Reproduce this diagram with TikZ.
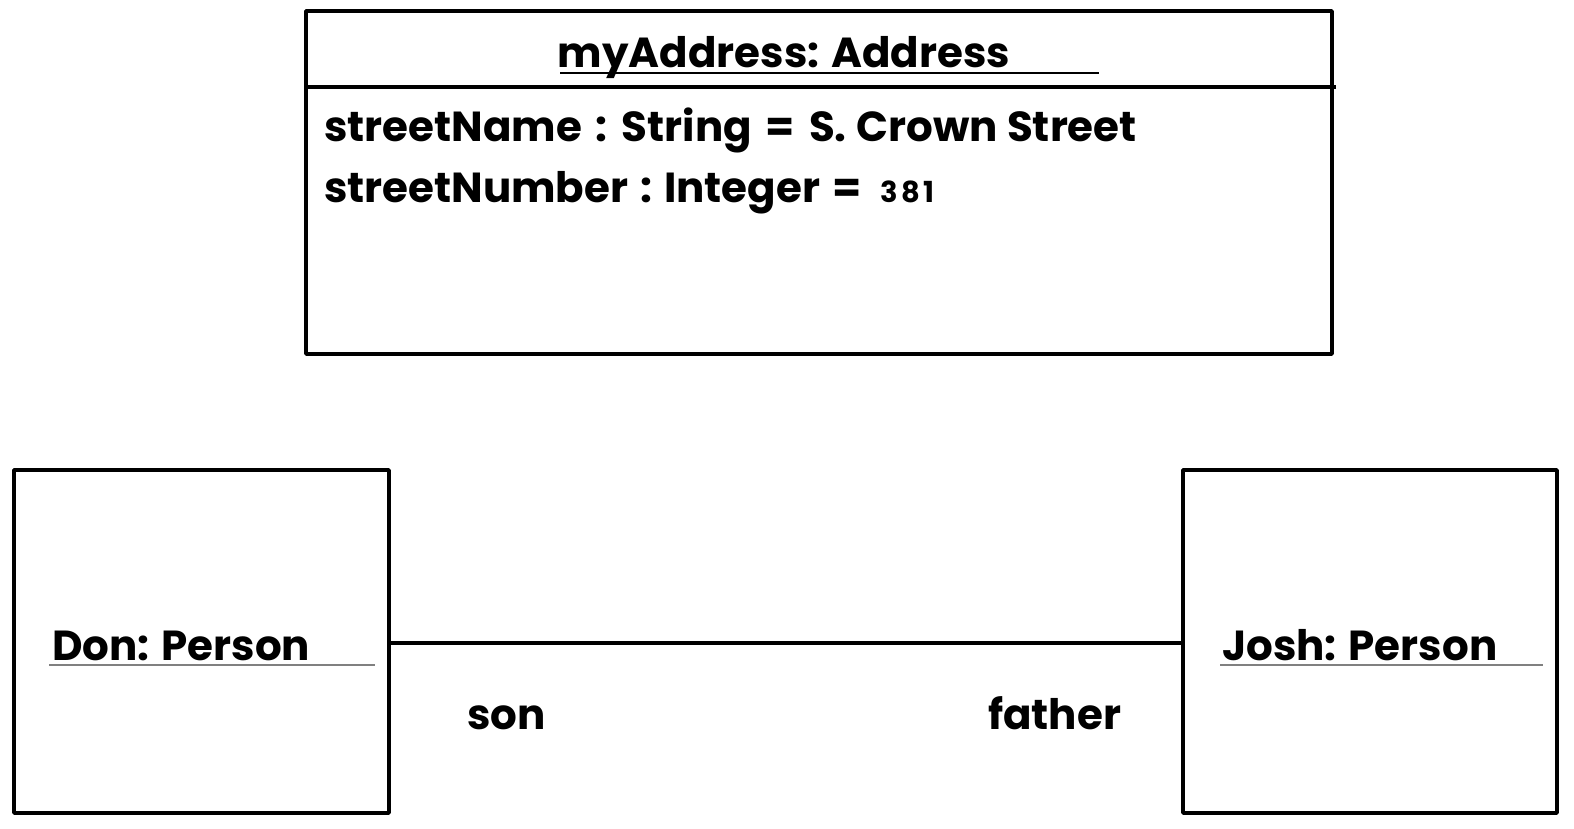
\documentclass[tikz,border=0pt]{standalone}
\usepackage{fontspec}
\setmainfont{Poppins}
\newcommand{\gap}{\hspace{14pt}}
\begin{document}
\begin{tikzpicture}[x=1pt,y=-1pt,
  box/.style={draw=black,line width=3.5pt,line join=round},
  txt/.style={inner sep=0pt,font=\fontsize{42}{42}\selectfont\bfseries},
  num/.style={inner sep=0pt,font=\fontsize{29}{29}\selectfont\bfseries\addfontfeature{LetterSpace=12}}]
\useasboundingbox[fill=white] (0,0) rectangle (1574,828);
% Address object
\draw[box] (306,11) rectangle (1332,354);
\coordinate (divL) at (306,87);
\coordinate (divR) at (1336,87);
\draw[line width=3.5pt] (divL) -- (divR);
\node[txt,anchor=base] (title) at (784,67) {myAddress: Address};
\draw[line width=1.2pt] (560,73) -- (1099,73);
\node[txt,anchor=base west] (a1) at (324,141) {streetName\gap:\gap String\gap=\gap S.\hspace{10pt}Crown Street};
\node[txt,anchor=base west] (a2) at (324,202) {streetNumber\hspace{12pt}:\hspace{12pt}Integer\hspace{12pt}=};
\node[num,anchor=base west] (a2n) at (880,202) {381};
% Persons
\draw[box] (14,470) rectangle (389,813);
\coordinate (don) at (389,643);
\node[txt,anchor=base west] (donl) at (52,660) {Don: Person};
\draw[gray,line width=2pt] (49,665) -- (375,665);
\draw[box] (1183,470) rectangle (1557,813);
\coordinate (josh) at (1183,643);
\node[txt,anchor=base west] (joshl) at (1222,660) {Josh: Person};
\draw[gray,line width=2pt] (1220,665) -- (1543,665);
\draw[line width=3.5pt] (don) -- (josh);
\node[txt,anchor=base west] (son) at (467,729) {son};
\node[txt,anchor=base west] (father) at (988,729) {father};
\end{tikzpicture}
\end{document}
